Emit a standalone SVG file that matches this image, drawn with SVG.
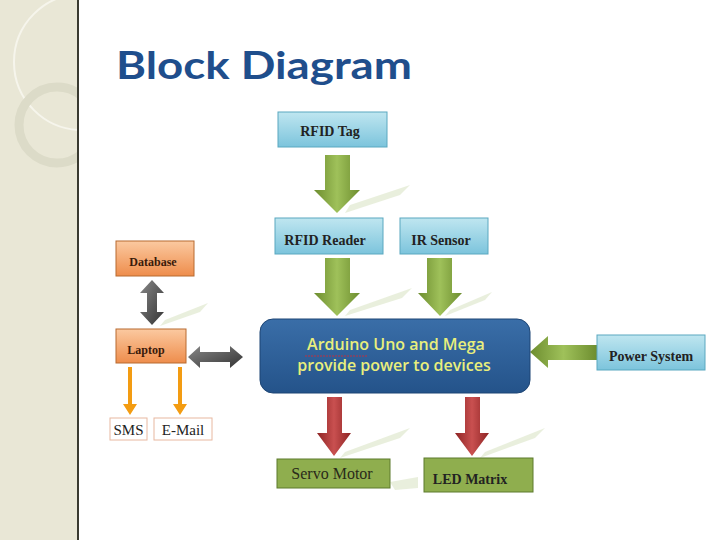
<svg xmlns="http://www.w3.org/2000/svg" width="720" height="540" viewBox="0 0 720 540">
<style>
.t{font-family:"Liberation Serif",serif;font-weight:bold;font-size:14px;fill:#222}
.blue{fill:url(#gb);stroke:#5aa8c0;stroke-width:1}
.or{fill:url(#go);stroke:#b86a30;stroke-width:1}
.gr{fill:#8fae4e;stroke:#5d7a2c;stroke-width:1}
.ga{fill:url(#gga)}
.ra{fill:url(#gra)}
.da{fill:url(#gda)}
.ya{fill:#f39c12}
.sh{fill:#dfe8cf;opacity:0.7}
</style>
<defs>
<linearGradient id="gb" x1="0" y1="0" x2="0" y2="1"><stop offset="0" stop-color="#bfe6f0"/><stop offset="1" stop-color="#7cc4dc"/></linearGradient>
<linearGradient id="go" x1="0" y1="0" x2="0" y2="1"><stop offset="0" stop-color="#fbc9a0"/><stop offset="1" stop-color="#ee8d4c"/></linearGradient>
<linearGradient id="gga" x1="0" y1="0" x2="1" y2="0"><stop offset="0" stop-color="#6d8d2f"/><stop offset="0.5" stop-color="#9fc15a"/><stop offset="1" stop-color="#6d8d2f"/></linearGradient>
<linearGradient id="gra" x1="0" y1="0" x2="1" y2="0"><stop offset="0" stop-color="#8e2424"/><stop offset="0.5" stop-color="#c95050"/><stop offset="1" stop-color="#8e2424"/></linearGradient>
<linearGradient id="gda" x1="0" y1="0" x2="1" y2="1"><stop offset="0" stop-color="#888"/><stop offset="1" stop-color="#333"/></linearGradient>
<linearGradient id="gar" x1="0" y1="0" x2="0" y2="1"><stop offset="0" stop-color="#3a6ea8"/><stop offset="1" stop-color="#24538a"/></linearGradient>
<clipPath id="side"><rect x="0" y="0" width="78" height="540"/></clipPath>
</defs>
<rect width="720" height="540" fill="#fff"/>
<rect x="0" y="0" width="78" height="540" fill="#e9e7d6"/>
<g clip-path="url(#side)">
<circle cx="82" cy="62" r="68" fill="none" stroke="#f6f5ec" stroke-width="2"/>
<circle cx="57" cy="125" r="38" fill="none" stroke="#dcdbc8" stroke-width="9"/>
</g>
<line x1="78" y1="0" x2="78" y2="540" stroke="#3a3a30" stroke-width="2"/>
<text x="116" y="79" font-family="Lato,sans-serif" font-weight="bold" font-size="38" fill="#1f4e8c" textLength="296" lengthAdjust="spacingAndGlyphs">Block Diagram</text>

<g id="connectors">
<path class="sh" d="M350 205 L410 185 L400 195 L345 213Z"/>
<path class="ga" d="M325 155 H350 V190 H360 L337 213 L314 190 H325Z"/>
<path class="sh" d="M350 310 L412 288 L402 298 L345 316Z"/>
<path class="ga" d="M325 258 H350 V293 H360 L337 316 L314 293 H325Z"/>
<path class="sh" d="M450 310 L492 292 L485 300 L445 316Z"/>
<path class="ga" d="M427 258 H452 V293 H462 L440 316 L418 293 H427Z"/>
<path class="ga" d="M597 345 V360 H548 V368 L530 352 L548 336 V345Z"/>
<path class="sh" d="M345 452 L410 428 L400 438 L340 458Z"/>
<path class="ra" d="M327 397 H342 V433 H351 L334 456 L317 433 H327Z"/>
<path class="sh" d="M485 452 L545 428 L535 438 L480 458Z"/>
<path class="ra" d="M465 397 H480 V433 H489 L472 456 L455 433 H465Z"/>
<path class="sh" d="M390 482 L418 477 L418 488 L395 490Z"/>
<path class="sh" d="M165 320 L208 303 L200 312 L160 326Z"/>
<path class="da" d="M152 280 L164 293 H157 V312 H164 L152 325 L140 312 H147 V293 H140Z"/>
<path class="da" d="M188 357 L200 346 V352 H230 V346 L243 357 L230 368 V362 H200 V368Z"/>
<path class="ya" d="M128 367 H132 V404 H137 L130 415 L123 404 H128Z"/>
<path class="ya" d="M178 367 H182 V404 H187 L180 415 L173 404 H178Z"/>
</g>

<g id="rfidtag"><rect class="blue" x="278" y="112" width="109" height="35"/><text class="t" x="330" y="136" text-anchor="middle">RFID Tag</text></g>
<g id="rfidreader"><rect class="blue" x="275" y="218" width="108" height="36"/><text class="t" x="325" y="245" text-anchor="middle">RFID Reader</text></g>
<g id="irsensor"><rect class="blue" x="400" y="218" width="88" height="36"/><text class="t" x="441" y="245" text-anchor="middle">IR Sensor</text></g>
<g id="arduino"><rect x="260" y="319" width="270" height="74" rx="13" fill="url(#gar)" stroke="#1d4575"/>
<text x="396" y="350" text-anchor="middle" font-family="Open Sans,sans-serif" font-weight="600" font-size="16" fill="#e9ef7c">Arduino Uno and Mega</text>
<text x="394" y="371" text-anchor="middle" font-family="Open Sans,sans-serif" font-weight="600" font-size="16" fill="#e9ef7c">provide power to devices</text>
<line x1="305" y1="356" x2="367" y2="356" stroke="#c03040" stroke-width="1" stroke-dasharray="2 1"/></g>
<g id="power"><rect class="blue" x="597" y="335" width="108" height="35"/><text class="t" x="651" y="361" text-anchor="middle">Power System</text></g>
<g id="servo"><rect class="gr" x="277" y="459" width="113" height="29"/><text x="332" y="479" text-anchor="middle" font-family="Liberation Serif,serif" font-size="16" fill="#2a2a1a">Servo Motor</text></g>
<g id="led"><rect class="gr" x="424" y="458" width="109" height="34"/><text class="t" x="470" y="484" text-anchor="middle">LED Matrix</text></g>
<g id="database"><rect class="or" x="116" y="241" width="78" height="35"/><text x="153" y="266" text-anchor="middle" font-family="Liberation Serif,serif" font-weight="bold" font-size="12" fill="#3a1a0a">Database</text></g>
<g id="laptop"><rect class="or" x="116" y="329" width="70" height="34"/><text x="146" y="354" text-anchor="middle" font-family="Liberation Serif,serif" font-weight="bold" font-size="12" fill="#3a1a0a">Laptop</text></g>
<g id="sms"><rect x="110" y="418" width="37" height="22" fill="#fff" stroke="#e8b8a0"/><text x="128.5" y="435" text-anchor="middle" font-family="Liberation Serif,serif" font-size="15" fill="#222">SMS</text></g>
<g id="email"><rect x="154" y="418" width="58" height="22" fill="#fff" stroke="#e8b8a0"/><text x="183" y="435" text-anchor="middle" font-family="Liberation Serif,serif" font-size="15" fill="#222">E-Mail</text></g>
</svg>
